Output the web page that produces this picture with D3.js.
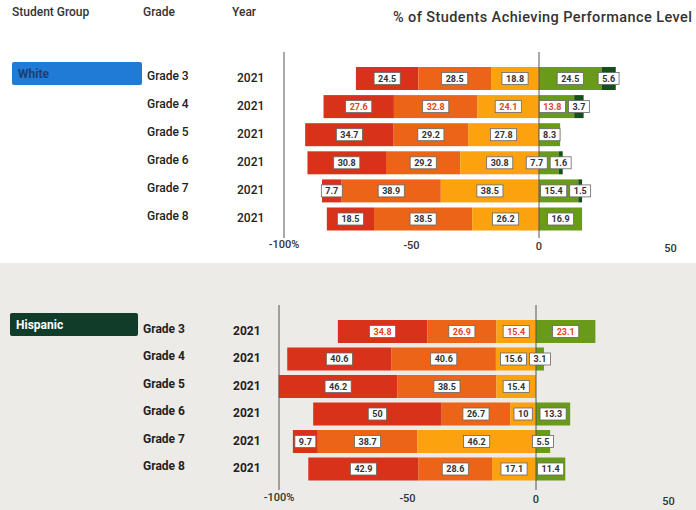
<!DOCTYPE html>
<html>
<head>
<meta charset="utf-8">
<script src="https://cdn.jsdelivr.net/npm/d3@7"></script>
<style>
  body { margin: 0; background: #fff; }
  svg { font-family: Roboto, "Liberation Sans", sans-serif; }
</style>
</head>
<body>
<svg id="chart" width="696" height="510"></svg>
<script>
// categories
const grades = ['Grade 3', 'Grade 4', 'Grade 5', 'Grade 6', 'Grade 7', 'Grade 8'];
const years = ['2021', '2021', '2021', '2021', '2021', '2021'];
const groups = ['White', 'Hispanic'];
const tickValues = [-100, -50, 0, 50];
const tickLabels = ['-100%', '-50', '0', '50'];

// % of students per performance level (levels 1-3 below zero, 4-5 above)
const whiteLevel1 = [24.5, 27.6, 34.7, 30.8, 7.7, 18.5];
const whiteLevel2 = [28.5, 32.8, 29.2, 29.2, 38.9, 38.5];
const whiteLevel3 = [18.8, 24.1, 27.8, 30.8, 38.5, 26.2];
const whiteLevel4 = [24.5, 13.8, 8.3, 7.7, 15.4, 16.9];
const whiteLevel5 = [5.6, 3.7, 0, 1.6, 1.5, 0];

const hispanicLevel1 = [34.8, 40.6, 46.2, 50, 9.7, 42.9];
const hispanicLevel2 = [26.9, 40.6, 38.5, 26.7, 38.7, 28.6];
const hispanicLevel3 = [15.4, 15.6, 15.4, 10, 46.2, 17.1];
const hispanicLevel4 = [23.1, 3.1, 0, 13.3, 5.5, 11.4];
const hispanicLevel5 = [0, 0, 0, 0, 0, 0];

const levelColors = ['#d8321a', '#ec6418', '#fba20e', '#6a9a1a', '#174f1c'];

const svg = d3.select('#chart');

// grey backdrop of the lower panel
svg.append('rect')
    .attr('x', 0).attr('y', 263)
    .attr('width', 696).attr('height', 247)
    .attr('fill', '#ecebe8');

// headers
const header = svg.append('g').attr('fill', '#333').attr('font-weight', 500);
header.append('text').attr('x', 12).attr('y', 16).attr('font-size', 12).text('Student Group');
header.append('text').attr('x', 143).attr('y', 16).attr('font-size', 12).text('Grade');
header.append('text').attr('x', 232).attr('y', 16).attr('font-size', 12).text('Year');
header.append('text').attr('x', 393).attr('y', 22).attr('font-size', 14.5)
    .attr('textLength', 299).text('% of Students Achieving Performance Level');

const panels = [
    {
        name: groups[0],
        levels: [whiteLevel1, whiteLevel2, whiteLevel3, whiteLevel4, whiteLevel5],
        xRange: [284, 666.5], yRange: [78.5, 219],
        box: { x: 12, y: 62, w: 130, fill: '#1f7bd6', text: '#1b3f75' },
        gradeX: 147, yearX: 237, weight: 500,
        lineTop: 52, lineBottom: 238, tickY: 248,
        redRow: 1
    },
    {
        name: groups[1],
        levels: [hispanicLevel1, hispanicLevel2, hispanicLevel3, hispanicLevel4, hispanicLevel5],
        xRange: [279, 664.5], yRange: [331.5, 469],
        box: { x: 10, y: 313, w: 128, fill: '#113c29', text: '#ffffff' },
        gradeX: 143, yearX: 233, weight: 700,
        lineTop: 305, lineBottom: 490, tickY: 501,
        redRow: 0
    }
];

const barHeight = 23;

panels.forEach(p => {
    const g = svg.append('g');

    const xScale = d3.scaleLinear()
        .domain([-100, 50])
        .range(p.xRange);

    const yScale = d3.scalePoint()
        .domain(grades)
        .range(p.yRange);

    // group label box
    g.append('rect')
        .attr('x', p.box.x).attr('y', p.box.y)
        .attr('width', p.box.w).attr('height', 23)
        .attr('rx', 2)
        .attr('fill', p.box.fill);
    g.append('text')
        .attr('x', p.box.x + 6).attr('y', p.box.y + 12)
        .attr('dominant-baseline', 'central')
        .attr('font-size', 12).attr('font-weight', 700)
        .attr('fill', p.box.text)
        .text(p.name);

    // grade + year columns
    g.selectAll('.grade')
        .data(grades)
        .enter().append('text')
            .attr('x', p.gradeX)
            .attr('y', d => yScale(d) - 3)
            .attr('dominant-baseline', 'central')
            .attr('font-size', 12).attr('font-weight', p.weight)
            .attr('fill', '#222')
            .text(d => d);

    g.selectAll('.year')
        .data(grades)
        .enter().append('text')
            .attr('x', p.yearX)
            .attr('y', d => yScale(d) - 1)
            .attr('dominant-baseline', 'central')
            .attr('font-size', 12).attr('font-weight', p.weight)
            .attr('fill', '#222')
            .text((d, i) => years[i]);

    // stacked segments: levels 1..3 to the left of 0, 4..5 to the right
    const segments = [];
    grades.forEach((grade, i) => {
        const neg = p.levels.slice(0, 3).map(l => l[i]);
        let x0 = -d3.sum(neg);
        p.levels.forEach((l, k) => {
            const v = l[i];
            if (k === 3) x0 = 0;
            if (v > 0) segments.push({ grade, row: i, level: k, v, x0, x1: x0 + v });
            x0 += v;
        });
    });

    g.selectAll('.seg')
        .data(segments)
        .enter().append('rect')
            .attr('x', d => xScale(d.x0))
            .attr('y', d => yScale(d.grade) - barHeight / 2)
            .attr('width', d => xScale(d.x1) - xScale(d.x0))
            .attr('height', barHeight)
            .attr('fill', d => levelColors[d.level]);

    // axis lines at -100 and 0
    [-100, 0].forEach(v => {
        g.append('line')
            .attr('x1', xScale(v)).attr('x2', xScale(v))
            .attr('y1', p.lineTop).attr('y2', p.lineBottom)
            .attr('stroke', '#555')
            .attr('stroke-width', 1);
    });

    // value labels
    const labels = g.selectAll('.lab')
        .data(segments)
        .enter().append('g');

    labels.append('text')
        .attr('text-anchor', 'middle')
        .attr('dominant-baseline', 'central')
        .attr('font-size', 9).attr('font-weight', 700)
        .attr('fill', d => (d.row === p.redRow && d.level < 4) ? '#e2451c' : '#333')
        .text(d => d.v);

    labels.each(function(d) {
        const t = d3.select(this).select('text');
        d.w = t.node().getComputedTextLength() + 8;
        d.cx = xScale((d.x0 + d.x1) / 2);
        d3.select(this).insert('rect', 'text')
            .attr('x', -d.w / 2).attr('y', -6)
            .attr('width', d.w).attr('height', 12)
            .attr('fill', '#fff')
            .attr('stroke', '#666')
            .attr('stroke-width', 0.8);
    });

    // push crowded labels apart (right-most first, shift left)
    grades.forEach((grade, i) => {
        const row = segments.filter(s => s.row === i);
        for (let k = row.length - 2; k >= 0; k--) {
            const a = row[k], b = row[k + 1];
            const overlap = (a.cx + a.w / 2 + 3) - (b.cx - b.w / 2);
            if (overlap > 0) a.cx -= overlap;
        }
    });

    labels.attr('transform', d => `translate(${d.cx}, ${yScale(d.grade)})`);

    // tick labels
    g.selectAll('.tick')
        .data(tickValues)
        .enter().append('text')
            .attr('x', d => xScale(d) + (d === 50 ? 4 : 0))
            .attr('y', (d, i) => p.tickY + i * 1.2)
            .attr('text-anchor', 'middle')
            .attr('font-size', 11).attr('font-weight', 500)
            .attr('fill', '#333')
            .text((d, i) => tickLabels[i]);
});
</script>
</body>
</html>
